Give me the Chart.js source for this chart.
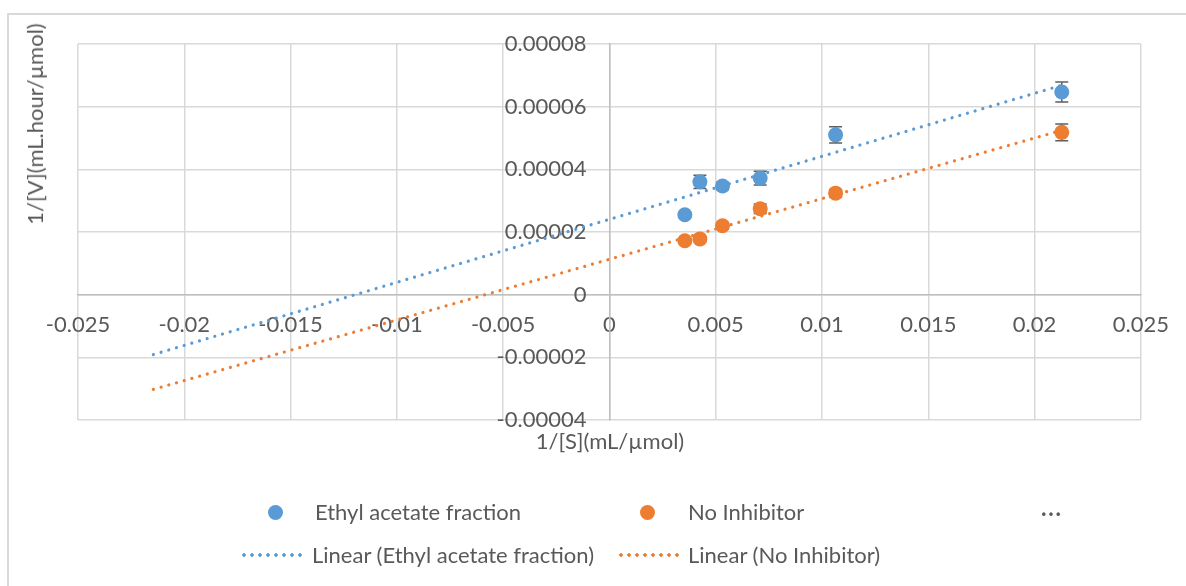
<!DOCTYPE html>
<html lang="en">
<head>
<meta charset="UTF-8">
<title>1/[V] vs 1/[S]</title>
<script src="https://cdn.jsdelivr.net/npm/chart.js"></script>
<style>
  body { margin: 0; background: #fff; font-family: Lato, sans-serif; color: #595959; }
  #wrap { position: relative; width: 1186px; height: 586px; overflow: hidden; }
  #frame { position: absolute; left: 7px; top: 13px; width: 1200px; height: 600px; border: 2px solid #d9d9d9; box-sizing: border-box; }
  #plot { position: absolute; left: 0; top: 0; }
  .txt { position: absolute; font-size: 22px; line-height: 22px; white-space: nowrap; }
  .dot { position: absolute; width: 15px; height: 15px; border-radius: 50%; }
  .dots { position: absolute; height: 4px; background-size: 8px 4px; background-repeat: repeat-x; }
</style>
</head>
<body>
<div id="wrap">
  <div id="frame"></div>
  <canvas id="plot" width="1186" height="586"></canvas>

  <div class="txt" style="left:610px; top:430px; transform:translateX(-50%);">1/[S](mL/µmol)</div>
  <div class="txt" style="left:35px; top:124px; transform:translate(-50%,-50%) rotate(-90deg);">1/[V](mL.hour/µmol)</div>

  <div class="dot" style="left:268px; top:505px; background:#5b9bd5;"></div>
  <div class="txt" style="left:315px; top:501px;">Ethyl acetate fraction</div>
  <div class="dot" style="left:640px; top:505px; background:#ed7d31;"></div>
  <div class="txt" style="left:688px; top:501px;">No Inhibitor</div>
  <div class="txt" style="left:1051px; top:494px; font-size:28px; transform:translateX(-50%);">…</div>

  <div class="dots" style="left:240px; top:553px; width:66px; background-image:radial-gradient(circle, #5b9bd5 1.5px, transparent 2px);"></div>
  <div class="txt" style="left:312px; top:544px;">Linear (Ethyl acetate fraction)</div>
  <div class="dots" style="left:617px; top:553px; width:66px; background-image:radial-gradient(circle, #ed7d31 1.5px, transparent 2px);"></div>
  <div class="txt" style="left:688px; top:544px;">Linear (No Inhibitor)</div>
</div>

<script>
  // 1/[S] for each substrate concentration
  const invS = [0.003546, 0.004255, 0.005319, 0.007092, 0.010638, 0.021277];

  // 1/[V] readings and their error bars
  const ethylAcetate = [0.0000255, 0.0000360, 0.0000347, 0.0000372, 0.0000510, 0.0000647];
  const ethylAcetateErr = [0.0000008, 0.0000021, 0.0000012, 0.0000022, 0.0000026, 0.0000032];
  const noInhibitor = [0.0000172, 0.0000178, 0.0000220, 0.0000274, 0.0000324, 0.0000518];
  const noInhibitorErr = [0.0000008, 0.0000008, 0.0000010, 0.0000015, 0.0000012, 0.0000027];

  const seriesNames = ['Ethyl acetate fraction', 'No Inhibitor'];
  const seriesColors = ['#5b9bd5', '#ed7d31'];

  const xMin = -0.025, xMax = 0.025, xStep = 0.005;
  const yMin = -0.00004, yMax = 0.00008, yStep = 0.00002;
  const backwardForecast = 0.025;

  // least squares fit, extended backwards like a spreadsheet trendline
  function trendline(xs, ys) {
    const n = xs.length;
    const mx = xs.reduce((a, b) => a + b, 0) / n;
    const my = ys.reduce((a, b) => a + b, 0) / n;
    let sxy = 0, sxx = 0;
    for (let i = 0; i < n; i++) {
      sxy += (xs[i] - mx) * (ys[i] - my);
      sxx += (xs[i] - mx) * (xs[i] - mx);
    }
    const slope = sxy / sxx;
    const icpt = my - slope * mx;
    const x0 = Math.min(...xs) - backwardForecast;
    const x1 = Math.max(...xs);
    return [{ x: x0, y: icpt + slope * x0 }, { x: x1, y: icpt + slope * x1 }];
  }

  const pts = ys => invS.map((x, i) => ({ x: x, y: ys[i] }));

  const errorBars = {
    id: 'errorBars',
    beforeDatasetsDraw(chart) {
      const { ctx, scales: { x, y } } = chart;
      const sets = [[ethylAcetate, ethylAcetateErr], [noInhibitor, noInhibitorErr]];
      ctx.save();
      ctx.strokeStyle = '#5f5f5f';
      ctx.lineWidth = 1.5;
      sets.forEach(([vals, errs]) => {
        invS.forEach((xv, i) => {
          const px = x.getPixelForValue(xv);
          const top = y.getPixelForValue(vals[i] + errs[i]);
          const bot = y.getPixelForValue(vals[i] - errs[i]);
          ctx.beginPath();
          ctx.moveTo(px, top); ctx.lineTo(px, bot);
          ctx.moveTo(px - 6.5, top); ctx.lineTo(px + 6.5, top);
          ctx.moveTo(px - 6.5, bot); ctx.lineTo(px + 6.5, bot);
          ctx.stroke();
        });
      });
      ctx.restore();
    }
  };

  const fmt = v => String(+Number(v).toFixed(6));

  Chart.defaults.font.family = 'Lato, sans-serif';
  Chart.defaults.font.size = 22;
  Chart.defaults.color = '#595959';

  new Chart(document.getElementById('plot'), {
    type: 'scatter',
    data: {
      datasets: [
        {
          label: seriesNames[0], data: pts(ethylAcetate), order: 0,
          backgroundColor: seriesColors[0], borderColor: seriesColors[0],
          pointRadius: 7.5, pointBorderWidth: 0
        },
        {
          label: seriesNames[1], data: pts(noInhibitor), order: 0,
          backgroundColor: seriesColors[1], borderColor: seriesColors[1],
          pointRadius: 7.5, pointBorderWidth: 0
        },
        {
          type: 'line', label: 'Linear (' + seriesNames[0] + ')',
          data: trendline(invS, ethylAcetate), order: 1,
          borderColor: seriesColors[0], borderWidth: 3.2, borderDash: [0.01, 8],
          borderCapStyle: 'round', pointRadius: 0, fill: false, showLine: true
        },
        {
          type: 'line', label: 'Linear (' + seriesNames[1] + ')',
          data: trendline(invS, noInhibitor), order: 1,
          borderColor: seriesColors[1], borderWidth: 3.2, borderDash: [0.01, 8],
          borderCapStyle: 'round', pointRadius: 0, fill: false, showLine: true
        }
      ]
    },
    options: {
      responsive: false,
      animation: false,
      devicePixelRatio: 1,
      layout: { padding: { left: 78, top: 44, right: 45, bottom: 166 } },
      plugins: { legend: { display: false }, tooltip: { enabled: false } },
      scales: {
        x: {
          type: 'linear', min: xMin, max: xMax,
          position: { y: 0 },
          grid: { color: '#d9d9d9', lineWidth: 1.5, drawTicks: false },
          border: { color: '#bfbfbf', width: 1.5 },
          ticks: { stepSize: xStep, padding: 17, maxRotation: 0, callback: fmt }
        },
        y: {
          // x range is symmetric, so the centre of the plot is x = 0
          type: 'linear', min: yMin, max: yMax,
          position: 'center',
          grid: { color: '#d9d9d9', lineWidth: 1.5, drawTicks: false },
          border: { color: '#bfbfbf', width: 1.5 },
          ticks: { stepSize: yStep, padding: 23, callback: fmt }
        }
      }
    },
    plugins: [errorBars]
  });
</script>
</body>
</html>
